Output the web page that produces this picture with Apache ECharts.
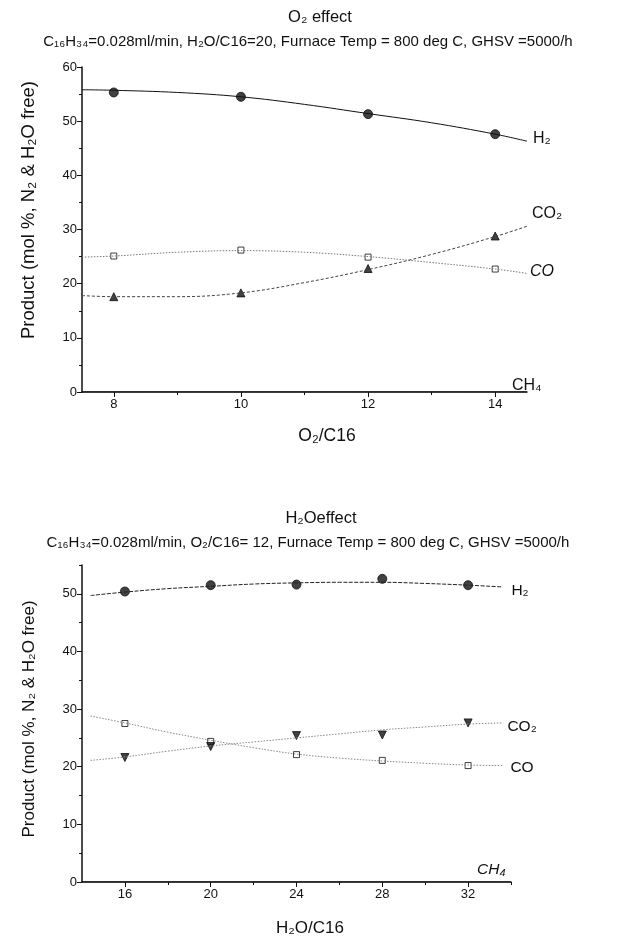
<!DOCTYPE html>
<html><head><meta charset="utf-8">
<script src="https://cdn.jsdelivr.net/npm/echarts@6/dist/echarts.min.js"></script>
<style>html,body{margin:0;padding:0;background:#fff}#c{width:621px;height:937px}</style>
</head><body><div id="c"></div>
<script>
// ---- Top chart: O2 effect ----
const o2X = [8, 10, 12, 14];
const o2H2 = [55.3, 54.5, 51.3, 47.6];
const o2CO = [25.1, 26.2, 24.9, 22.7];
const o2CO2 = [17.6, 18.3, 22.8, 28.8];
const o2FitX = [7.5, 8, 9, 10, 11, 12, 13, 14, 14.5];
const o2FitH2 = [55.8, 55.7, 55.3, 54.5, 53.1, 51.4, 49.7, 47.6, 46.3];
const o2FitCO = [24.9, 25.1, 25.8, 26.1, 25.8, 25.0, 23.9, 22.7, 21.9];
const o2FitCO2 = [17.8, 17.6, 17.6, 18.3, 20.2, 22.6, 25.4, 28.7, 30.6];
const o2CH4X = [7.5, 14.5];
const o2CH4 = [0, 0];
const o2XLabels = [8, 10, 12, 14];
const o2XMinor = [9, 11, 13];
const o2YLabels = [0, 10, 20, 30, 40, 50, 60];
const o2YMinor = [5, 15, 25, 35, 45, 55];

// ---- Bottom chart: H2O effect ----
const h2oX = [16, 20, 24, 28, 32];
const h2oH2 = [50.4, 51.5, 51.6, 52.6, 51.5];
const h2oCO = [27.5, 24.4, 22.1, 21.1, 20.2];
const h2oCO2 = [21.6, 23.5, 25.4, 25.5, 27.6];
const h2oFitX = [14.4, 16, 18, 20, 22, 24, 26, 28, 30, 32, 33.6];
const h2oFitH2 = [49.7, 50.3, 50.9, 51.3, 51.7, 51.9, 52.0, 52.0, 51.8, 51.5, 51.2];
const h2oFitCO = [28.8, 27.6, 26.0, 24.6, 23.3, 22.2, 21.5, 21.0, 20.6, 20.3, 20.2];
const h2oFitCO2 = [21.1, 21.7, 22.7, 23.6, 24.3, 25.0, 25.7, 26.4, 26.9, 27.4, 27.6];
const h2oCH4X = [14, 34];
const h2oCH4 = [0, 0];
const h2oXLabels = [16, 20, 24, 28, 32];
const h2oXMinor = [18, 22, 26, 30, 34];
const h2oYLabels = [0, 10, 20, 30, 40, 50];
const h2oYMinor = [5, 15, 25, 35, 45, 55];

const pairs = (xs, ys) => xs.map((x, i) => [x, ys[i]]);
const FONT = 'Liberation Sans, Arial, DejaVu Sans, sans-serif';
const axisLine = {show: true, lineStyle: {color: '#111', width: 1.5}};

function mainX(grid, min, max, labels) {
  return {type: 'value', gridIndex: grid, min, max, position: 'bottom',
    axisLine, splitLine: {show: false},
    axisTick: {show: true, customValues: labels, length: 5, lineStyle: {color: '#111'}},
    axisLabel: {customValues: labels, color: '#111', fontSize: 13, fontFamily: FONT, margin: 6}};
}
function minorX(grid, min, max, vals) {
  return {type: 'value', gridIndex: grid, min, max, position: 'bottom', offset: 0,
    axisLine: {show: false}, splitLine: {show: false}, axisLabel: {show: false},
    axisTick: {show: true, customValues: vals, length: 3, lineStyle: {color: '#111'}}};
}
function mainY(grid, max, labels) {
  return {type: 'value', gridIndex: grid, min: 0, max, position: 'left',
    axisLine, splitLine: {show: false},
    axisTick: {show: true, customValues: labels, length: 5, lineStyle: {color: '#111'}},
    axisLabel: {customValues: labels, color: '#111', fontSize: 13, fontFamily: FONT, margin: 5}};
}
function minorY(grid, max, vals) {
  return {type: 'value', gridIndex: grid, min: 0, max, position: 'left', offset: 0,
    axisLine: {show: false}, splitLine: {show: false}, axisLabel: {show: false},
    axisTick: {show: true, customValues: vals, length: 3, lineStyle: {color: '#111'}}};
}
function fit(axis, data, style, label, off, size, italic) {
  return {type: 'line', xAxisIndex: axis, yAxisIndex: axis, data, smooth: 0.4,
    showSymbol: false, symbol: 'none', silent: true,
    lineStyle: style,
    endLabel: {show: true, formatter: label, offset: off, color: '#111',
      fontSize: size, fontFamily: FONT, fontStyle: italic ? 'italic' : 'normal'}};
}
function pts(axis, data, symbol, size, fill, rot) {
  return {type: 'scatter', xAxisIndex: axis, yAxisIndex: axis, data, symbol,
    symbolSize: size, symbolRotate: rot || 0, silent: true,
    itemStyle: {color: fill, borderColor: '#111', borderWidth: 1}};
}
function txt(x, y, text, size, rot) {
  return {type: 'text', x, y, rotation: rot || 0, silent: true,
    style: {text, fill: '#111', font: size + 'px ' + FONT, align: 'center', verticalAlign: 'middle'}};
}

const option = {
  animation: false,
  backgroundColor: '#fff',
  grid: [
    {left: 82, top: 67, width: 445, height: 325},
    {left: 82, top: 565, width: 429, height: 317}
  ],
  xAxis: [
    mainX(0, 7.5, 14.5, o2XLabels),
    mainX(1, 14, 34, h2oXLabels),
    minorX(0, 7.5, 14.5, o2XMinor),
    minorX(1, 14, 34, h2oXMinor)
  ],
  yAxis: [
    mainY(0, 60, o2YLabels),
    mainY(1, 55, h2oYLabels),
    minorY(0, 60, o2YMinor),
    minorY(1, 55, h2oYMinor)
  ],
  graphic: [
    txt(320, 17, 'O₂ effect', 16.5),
    txt(308, 42, 'C₁₆H₃₄=0.028ml/min, H₂O/C16=20, Furnace Temp = 800 deg C, GHSV =5000/h', 15),
    txt(321, 518, 'H₂Oeffect', 16.5),
    txt(308, 543, 'C₁₆H₃₄=0.028ml/min, O₂/C16= 12, Furnace Temp = 800 deg C, GHSV =5000/h', 15),
    txt(29, 210, 'Product (mol %, N₂ & H₂O free)', 18.5, Math.PI / 2),
    txt(29, 719, 'Product (mol %, N₂ & H₂O free)', 17, Math.PI / 2),
    txt(327, 436, 'O₂/C16', 17.5),
    txt(310, 928, 'H₂O/C16', 17)
  ],
  series: [
    fit(0, pairs(o2FitX, o2FitH2), {color: '#111', width: 1}, 'H₂', [-2, -3], 16),
    fit(0, pairs(o2FitX, o2FitCO), {color: '#777', width: 1, type: [1.5, 1.5]}, 'CO', [-5, -2], 16, true),
    fit(0, pairs(o2FitX, o2FitCO2), {color: '#444', width: 1, type: [3, 2]}, 'CO₂', [-3, -13], 16),
    fit(0, pairs(o2CH4X, o2CH4), {color: '#111', width: 1}, 'CH₄', [-23, -6], 16),
    pts(0, pairs(o2X, o2H2), 'circle', 9, '#111'),
    pts(0, pairs(o2X, o2CO), 'rect', 6, '#fff'),
    pts(0, pairs(o2X, o2CO2), 'triangle', 8, '#111'),

    fit(1, pairs(h2oFitX, h2oFitH2), {color: '#222', width: 1, type: [4, 1.5]}, 'H₂', [1, 4], 15.5),
    fit(1, pairs(h2oFitX, h2oFitCO), {color: '#888', width: 1, type: [1.5, 1.5]}, 'CO', [0, 2], 15.5),
    fit(1, pairs(h2oFitX, h2oFitCO2), {color: '#888', width: 1, type: [1.5, 1.5]}, 'CO₂', [-3, 4], 15.5),
    fit(1, pairs(h2oCH4X, h2oCH4), {color: '#111', width: 1}, 'CH₄', [-42, -12], 15.5, true),
    pts(1, pairs(h2oX, h2oH2), 'circle', 9, '#111'),
    pts(1, pairs(h2oX, h2oCO), 'rect', 6, '#fff'),
    pts(1, pairs(h2oX, h2oCO2), 'triangle', 8, '#111', 180)
  ]
};
const chart = echarts.init(document.getElementById('c'), null, {renderer: 'canvas'});
chart.setOption(option);
</script></body></html>
